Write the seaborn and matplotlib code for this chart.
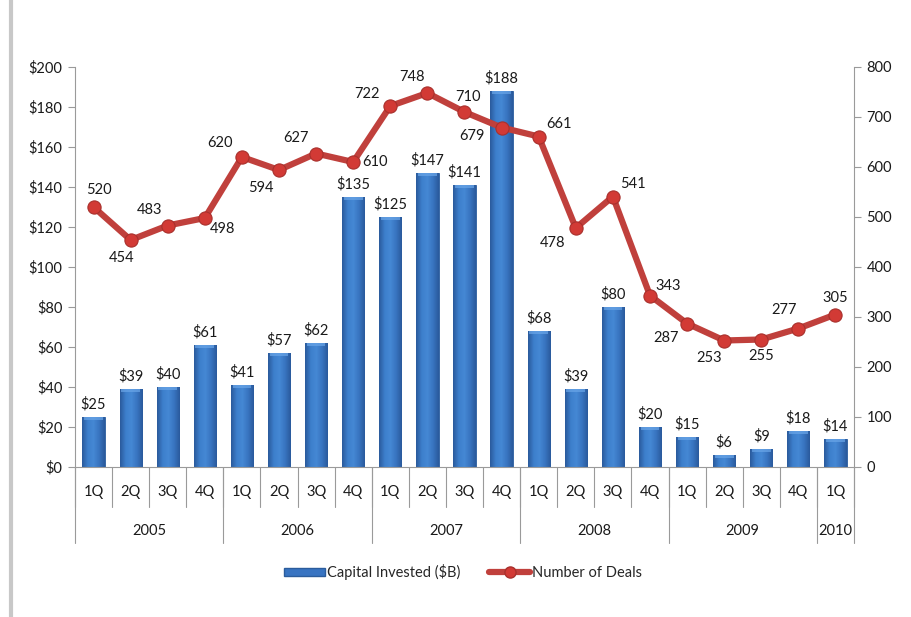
import numpy as np
import pandas as pd
import matplotlib
matplotlib.use("Agg")
import matplotlib.pyplot as plt
import seaborn as sns
from matplotlib.lines import Line2D
from matplotlib.patches import Patch
from matplotlib.colors import LinearSegmentedColormap

quarters = ["1Q", "2Q", "3Q", "4Q", "1Q", "2Q", "3Q", "4Q", "1Q", "2Q", "3Q", "4Q",
            "1Q", "2Q", "3Q", "4Q", "1Q", "2Q", "3Q", "4Q", "1Q"]
years = ["2005", "2006", "2007", "2008", "2009", "2010"]
year_counts = [4, 4, 4, 4, 4, 1]
capital = [25, 39, 40, 61, 41, 57, 62, 135, 125, 147, 141, 188, 68, 39, 80, 20, 15, 6, 9, 18, 14]
deals = [520, 454, 483, 498, 620, 594, 627, 610, 722, 748, 710, 679, 661, 478, 541, 343, 287, 253, 255, 277, 305]
# label offsets (pixels) for deal labels
deal_offsets = [(5, 17), (-9, -18), (-18, 15), (18, -11), (-22, 14), (-18, -18), (-20, 16), (22, 0),
                (-23, 12), (-15, 16), (4, 15), (-30, -8), (20, 13), (-23, -15), (20, 12), (18, 9),
                (-21, -15), (-15, -17), (0, -16), (-14, 18), (0, 17)]

sns.set_style("white")
plt.rcParams['font.family'] = ['Lato', 'DejaVu Sans']
FS = 10.5

n = len(capital)
labels = [f"c{i}" for i in range(n)]
df = pd.DataFrame({"cat": labels, "capital": capital, "deals": deals, "pos": np.arange(n)})

fig = plt.figure(figsize=(9.12, 6.17), dpi=100)
ax = fig.add_axes([75/912, 1-467/617, (854-75)/912, 400/617])

bar_color = "#3874c2"
sns.barplot(data=df, x="cat", y="capital", color=bar_color, width=0.6, ax=ax,
            saturation=1, edgecolor="#2b5c9c", linewidth=0.6, order=labels)

# gradient shading on each bar
cmap = LinearSegmentedColormap.from_list("bar", ["#2a5a9c", "#3d7fcc", "#4588d4", "#3874c0", "#2a5a9c"])
grad = np.linspace(0, 1, 64).reshape(1, -1)
for p in ax.patches:
    x0, y0 = p.get_x(), p.get_y()
    w, h = p.get_width(), p.get_height()
    im = ax.imshow(grad, cmap=cmap, aspect="auto", extent=[x0, x0 + w, y0, y0 + h], zorder=p.get_zorder() + 0.1)
    im.set_clip_path(p)
    cap = min(h, 1.6)
    ax.fill_between([x0 + w * 0.08, x0 + w * 0.92], y0 + h - cap, y0 + h, color="#6aa6e8", alpha=0.7,
                    zorder=p.get_zorder() + 0.2, linewidth=0)

for c in ax.containers:
    ax.bar_label(c, labels=[f"${v}" for v in capital], padding=4, fontsize=FS, color="#1a1a1a")

ax.set_xlim(-0.5, n - 0.5)
ax.set_ylim(0, 200)
ax.set_yticks(np.arange(0, 201, 20))
ax.set_yticklabels([f"${v}" for v in range(0, 201, 20)])
ax.set_xticks([])
ax.set_xlabel("")
ax.set_ylabel("")

ax2 = ax.twinx()
sns.lineplot(data=df, x="pos", y="deals", ax=ax2, color="#c0403c", linewidth=4.5,
             marker="o", markersize=9.5, markerfacecolor="#d23a35", markeredgecolor="#a8302c",
             markeredgewidth=0.8)
ax2.set_ylim(0, 800)
ax2.set_yticks(np.arange(0, 801, 100))
ax2.set_ylabel("")
ax2.set_xlabel("")
ax2.set_xlim(-0.5, n - 0.5)
ax2.set_xticks([])
for i, (v, off) in enumerate(zip(deals, deal_offsets)):
    ax2.annotate(str(v), (i, v), xytext=off, textcoords="offset pixels",
                 ha="center", va="center", fontsize=FS, color="#1a1a1a")

spine_c = "#9a9a9a"
for a in (ax, ax2):
    for s in a.spines.values():
        s.set_visible(False)
    a.tick_params(axis="y", length=5, width=0.8, color=spine_c, labelsize=FS,
                  labelcolor="#1a1a1a", pad=4)
ax.spines["left"].set_visible(True)
ax.spines["left"].set_color(spine_c)
ax2.spines["right"].set_visible(True)
ax2.spines["right"].set_color(spine_c)
ax.spines["bottom"].set_visible(True)
ax.spines["bottom"].set_color(spine_c)
ax.tick_params(axis="y", left=True, right=False)
ax2.tick_params(axis="y", right=True, left=False)

# multi-level category axis
trans = ax.get_xaxis_transform()
px = 1.0 / 400.0  # axes-fraction per pixel (axes height 400 px)
for i in range(n + 1):
    x = i - 0.5
    ax.plot([x, x], [0, -40 * px], transform=trans, color=spine_c, lw=0.8, clip_on=False)
for i, q in enumerate(quarters):
    ax.text(i, -25 * px, q, transform=trans, ha="center", va="center", fontsize=FS, color="#1a1a1a")
start = 0
bounds = [0]
for y, cnt in zip(years, year_counts):
    ax.text(start + cnt / 2 - 0.5, -64 * px, y, transform=trans, ha="center", va="center",
            fontsize=FS, color="#1a1a1a")
    start += cnt
    bounds.append(start)
for b in bounds:
    ax.plot([b - 0.5, b - 0.5], [0, -76 * px], transform=trans, color=spine_c, lw=0.8, clip_on=False)

# legend
handles = [Patch(facecolor=bar_color, edgecolor="#2b5c9c", label="Capital Invested ($B)"),
           Line2D([0], [0], color="#c0403c", lw=4.5, marker="o", markersize=8,
                  markerfacecolor="#d23a35", markeredgecolor="#a8302c", label="Number of Deals")]
fig.legend(handles=handles, loc="center", bbox_to_anchor=(463/912, 1 - 572/617), ncol=2,
           frameon=False, fontsize=FS, handlelength=2.8, handleheight=0.5, columnspacing=2.0,
           handletextpad=0.1)

# left decorative bar
fig.add_artist(Line2D([11.5/912, 11.5/912], [0, 1], color="#c8c8c8", lw=3, transform=fig.transFigure))

fig.savefig("out.png", dpi=100)
